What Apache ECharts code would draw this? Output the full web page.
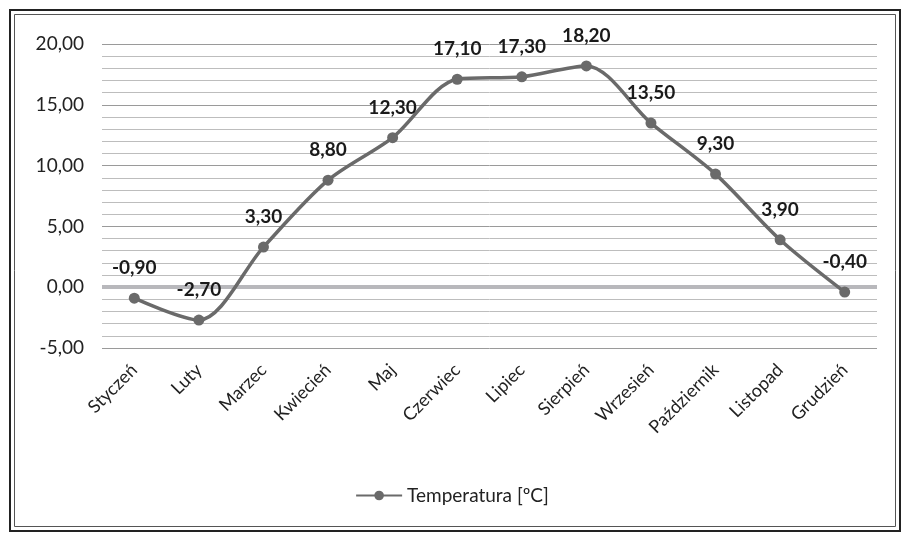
<!DOCTYPE html>
<html><head><meta charset="utf-8">
<script src="https://cdn.jsdelivr.net/npm/echarts@6/dist/echarts.min.js"></script>
<style>html,body{margin:0;padding:0;background:#fff}#c{width:904px;height:533px}</style>
</head><body><div id="c"></div>
<script>
const months = ['Styczeń','Luty','Marzec','Kwiecień','Maj','Czerwiec','Lipiec','Sierpień','Wrzesień','Październik','Listopad','Grudzień'];
const temperature = [-0.9, -2.7, 3.3, 8.8, 12.3, 17.1, 17.3, 18.2, 13.5, 9.3, 3.9, -0.4];
const seriesName = 'Temperatura [ºC]';
const yMin = -5, yMax = 20, yStep = 5;

const fmt = v => Number(v).toFixed(2).replace('.', ',');
const font = 'Lato, "Open Sans", sans-serif';
const chart = echarts.init(document.getElementById('c'), null, {renderer: 'canvas'});
chart.setOption({
  animation: false,
  backgroundColor: '#fff',
  textStyle: {fontFamily: font},
  grid: {left: 102, right: 27, top: 44, bottom: 185, containLabel: false},
  legend: {
    bottom: 23, left: 'center',
    itemWidth: 46, itemHeight: 12, itemGap: 2,
    textStyle: {fontSize: 19, color: '#222', fontFamily: font},
    data: [seriesName]
  },
  xAxis: {
    type: 'category', data: months, boundaryGap: true,
    axisLine: {show: false, onZero: false},
    axisTick: {show: false},
    axisLabel: {rotate: 45, fontSize: 18, color: '#222', margin: 19, fontFamily: font}
  },
  yAxis: {
    type: 'value', min: yMin, max: yMax, interval: yStep,
    axisLine: {show: false}, axisTick: {show: false},
    axisLabel: {formatter: fmt, fontSize: 19, color: '#222', margin: 18, fontFamily: font},
    splitLine: {show: true, lineStyle: {color: '#9a9a9a', width: 1}},
    minorTick: {show: false, splitNumber: 5},
    minorSplitLine: {show: true, lineStyle: {color: '#bdbdbd', width: 1}}
  },
  series: [{
    name: seriesName, type: 'line', data: temperature, smooth: 0.3,
    symbol: 'circle', symbolSize: 11,
    lineStyle: {color: '#6a6a6a', width: 3.5},
    itemStyle: {color: '#6a6a6a'},
    label: {show: true, position: 'top', distance: 15, formatter: p => fmt(p.value),
      fontSize: 19, fontWeight: 'bold', color: '#1a1a1a', fontFamily: font},
    markLine: {silent: true, symbol: 'none', label: {show: false},
      lineStyle: {color: '#b8b8bc', width: 4, type: 'solid'}, data: [{yAxis: 0}]},
    z: 5
  }],
  graphic: [
    {type: 'rect', shape: {x: 10, y: 10, width: 890, height: 521}, style: {fill: 'none', stroke: '#222', lineWidth: 2}, silent: true},
    {type: 'rect', shape: {x: 14.5, y: 14.5, width: 881, height: 512}, style: {fill: 'none', stroke: '#555', lineWidth: 1}, silent: true}
  ]
});
</script></body></html>
